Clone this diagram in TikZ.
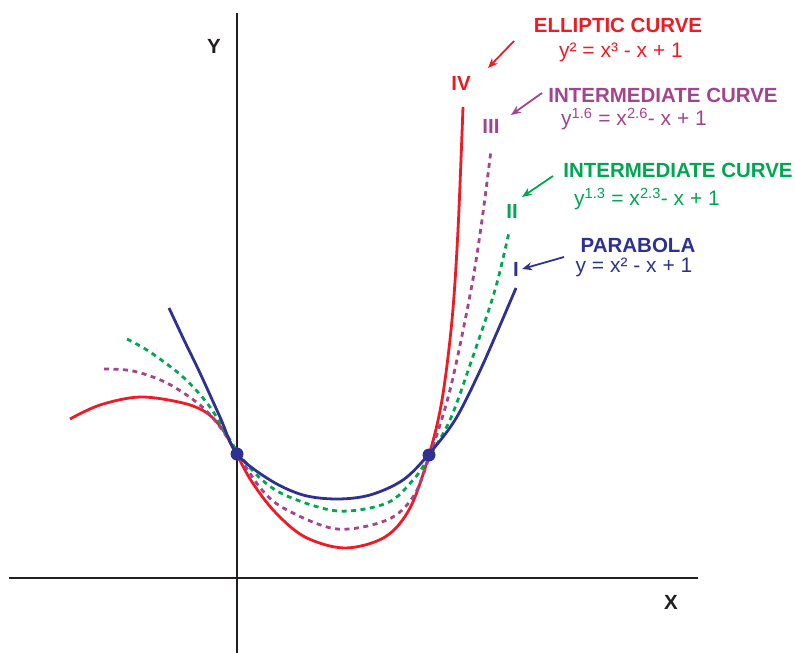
\documentclass[tikz,border=0pt]{standalone}
\usepackage{fontspec}
\setmainfont{Liberation Sans}
\usetikzlibrary{arrows.meta,positioning}

\definecolor{ellred}{HTML}{ED1C24}
\definecolor{midpurple}{HTML}{A3448E}
\definecolor{midgreen}{HTML}{00A651}
\definecolor{parblue}{HTML}{2E3192}
\definecolor{axisgray}{HTML}{231F20}

\begin{document}
\begin{tikzpicture}[
        x=1pt, y=-1pt,
        >=Stealth,
        axis/.style={draw=axisgray, line width=2.9pt},
        axislabel/.style={text=axisgray, font=\fontsize{20.5}{24}\selectfont\bfseries, inner sep=0pt},
        curve/.style={line width=2.8pt, smooth, tension=0.55},
        title/.style={font=\fontsize{20.5}{24}\selectfont\bfseries, inner sep=0pt},
        eqn/.style={font=\fontsize{21}{24}\selectfont, inner sep=0pt},
        numeral/.style={font=\fontsize{20.5}{24}\selectfont\bfseries, inner sep=0pt},
        arrow/.style={line width=1.8pt, arrows={-Stealth[length=10pt,width=8pt]}},
        crossing/.style={circle, fill=parblue, inner sep=0pt, minimum size=13pt}
    ]
        \useasboundingbox (0,0) rectangle (795,653);

        \coordinate (xstart) at (9,578);
        \coordinate (xend) at (698,578);
        \coordinate (ystart) at (237,653);
        \coordinate (yend) at (237,13);
        \draw[axis] (xstart) -- (xend);
        \draw[axis] (ystart) -- (yend);
        \node[axislabel] (ylab) at (214,46) {Y};
        \node[axislabel] (xlab) at (671,602) {X};

        \draw[curve, ellred] plot coordinates {(70,419) (100,405) (140,397) (183,403) (207,413) (223,430) (237,455)
            (252,482) (275,512) (305,537) (345,548) (385,537) (410,508) (429,455) (442,400) (452,320) (458,230) (463,107)};
        \draw[curve, midpurple, dash pattern=on 5pt off 4.5pt] plot coordinates {(104,369) (133,371) (167,383) (200,405) (220,427) (237,453)
            (262,490) (287,510) (337,529) (387,520) (413,497) (429,458) (450,390) (471,290) (482,220) (491,150)};
        \draw[curve, midgreen, dash pattern=on 5pt off 4.5pt] plot coordinates {(127,339) (150,352) (183,377) (210,407) (237,451)
            (260,478) (287,496) (338,511) (387,503) (413,480) (429,457) (450,420) (470,365) (495,290) (509,232)};
        \draw[curve, parblue] plot coordinates {(169,308) (185,342) (200,373) (220,417) (237,454)
            (270,480) (303,495) (337,499) (370,495) (403,480) (429,454) (455,420) (478,375) (498,330) (516,288)};

        \node[crossing] (leftpt) at (237,454) {};
        \node[crossing] (rightpt) at (429,455) {};

        \node[title, text=ellred] (elltitle) at (618,25) {ELLIPTIC CURVE};
        \node[eqn, text=ellred] (elleq) at (621,52) {y² = x³ - x + 1};
        \node[numeral, text=ellred] (iv) at (461,83) {IV};
        \coordinate (ellarr) at (514,41);
        \draw[arrow, ellred] (ellarr) -- (488,68);

        \node[title, text=midpurple] (midtitleA) at (663,95) {INTERMEDIATE CURVE};
        \node[eqn, text=midpurple] (mideqA) at (634,119) {y\textsuperscript{1.6} = x\textsuperscript{2.6}- x + 1};
        \node[numeral, text=midpurple] (iii) at (491,126) {III};
        \coordinate (midarrA) at (542,93);
        \draw[arrow, midpurple] (midarrA) -- (511,115);

        \node[title, text=midgreen] (midtitleB) at (678,170) {INTERMEDIATE CURVE};
        \node[eqn, text=midgreen] (mideqB) at (647,199) {y\textsuperscript{1.3} = x\textsuperscript{2.3}- x + 1};
        \node[numeral, text=midgreen] (ii) at (512,211) {II};
        \coordinate (midarrB) at (553,176);
        \draw[arrow, midgreen] (midarrB) -- (522,197);

        \node[title, text=parblue] (partitle) at (638,245) {PARABOLA};
        \node[eqn, text=parblue] (pareq) at (634,267) {y = x² - x + 1};
        \node[numeral, text=parblue] (i) at (516,269) {I};
        \coordinate (pararr) at (564,257);
        \draw[arrow, parblue] (pararr) -- ([xshift=3pt]i.east);
    \end{tikzpicture}
\end{document}
